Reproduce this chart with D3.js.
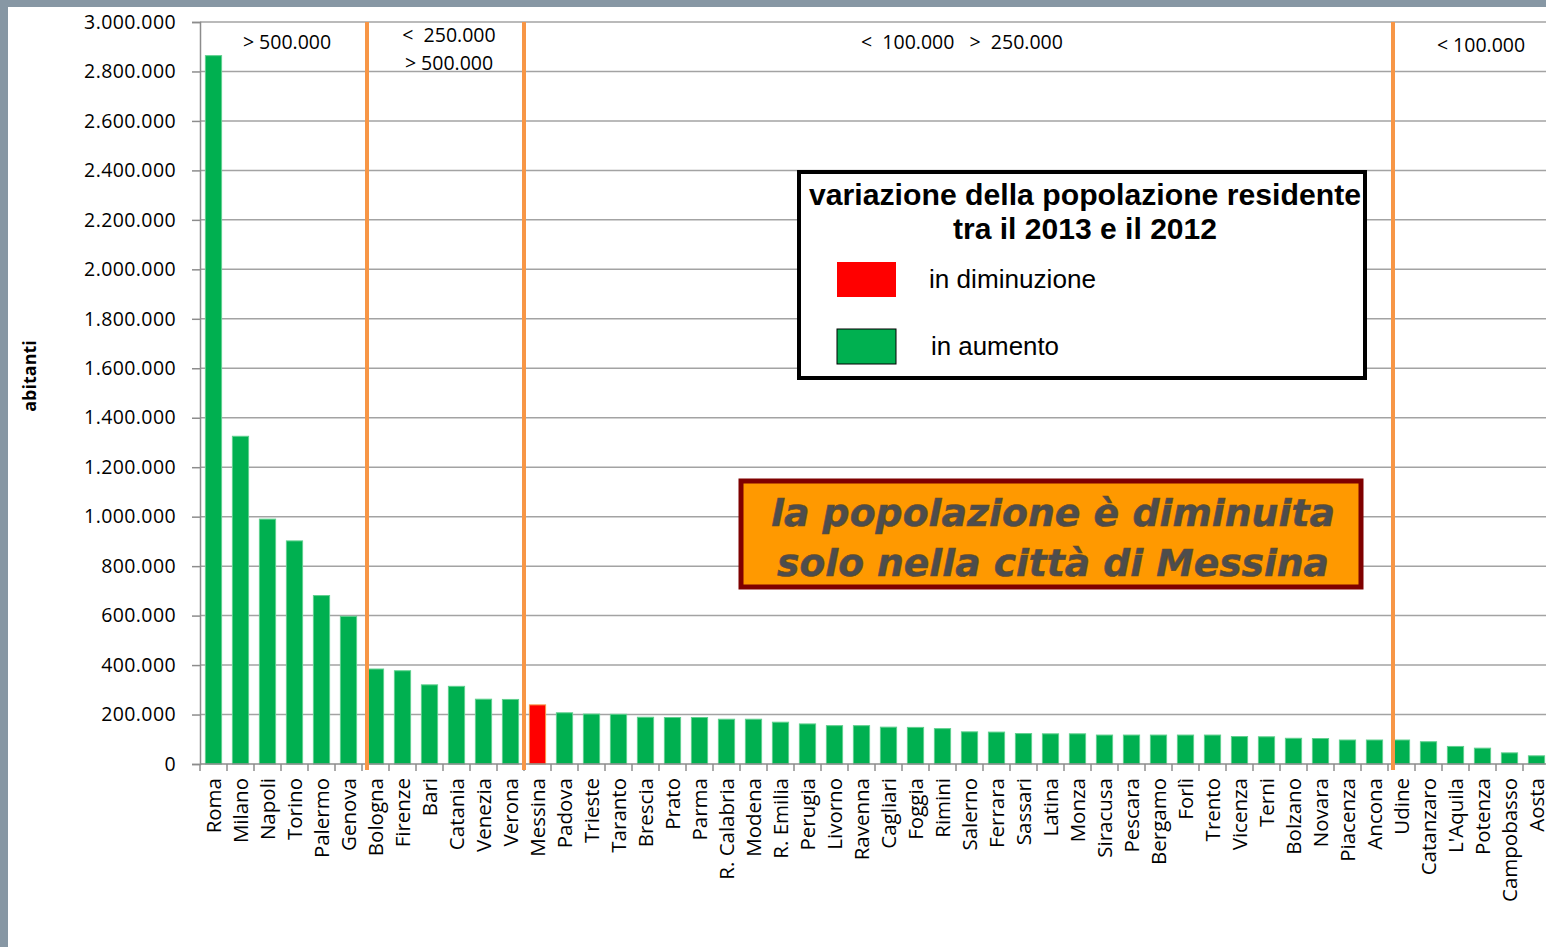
<!DOCTYPE html>
<html>
<head>
<meta charset="utf-8">
<script src="https://cdn.jsdelivr.net/npm/d3@7/dist/d3.min.js"></script>
<style>
  body { margin: 0; background: #fff; }
  svg { display: block; }
</style>
</head>
<body>
<script>
// data
var cities = ["Roma", "Milano", "Napoli", "Torino", "Palermo", "Genova", "Bologna", "Firenze", "Bari", "Catania",
  "Venezia", "Verona", "Messina", "Padova", "Trieste", "Taranto", "Brescia", "Prato", "Parma", "R. Calabria",
  "Modena", "R. Emilia", "Perugia", "Livorno", "Ravenna", "Cagliari", "Foggia", "Rimini", "Salerno", "Ferrara",
  "Sassari", "Latina", "Monza", "Siracusa", "Pescara", "Bergamo", "Forlì", "Trento", "Vicenza", "Terni",
  "Bolzano", "Novara", "Piacenza", "Ancona", "Udine", "Catanzaro", "L'Aquila", "Potenza", "Campobasso", "Aosta"];

var residents = [2864000, 1325000, 990000, 902000, 681000, 597000, 384000, 377000, 320000, 314000,
  262000, 261000, 239000, 207000, 202000, 201000, 189000, 188000, 188000, 181000,
  181000, 169000, 162000, 155000, 155000, 149000, 148000, 143000, 130000, 129000,
  123000, 122000, 122000, 117000, 117000, 117000, 117000, 117000, 111000, 110000,
  104000, 103000, 97000, 97000, 97000, 90000, 71000, 64000, 45000, 33000];

var decreasing = ["Messina"];

var yTicks = [0, 200000, 400000, 600000, 800000, 1000000, 1200000, 1400000, 1600000, 1800000,
  2000000, 2200000, 2400000, 2600000, 2800000, 3000000];

// first city of each size group after a vertical divider
var groupStarts = ["Bologna", "Messina", "Udine"];
var groupLabels = [
  { from: "Roma", to: "Genova", lines: ["> 500.000"] },
  { from: "Bologna", to: "Verona", lines: ["<  250.000", "> 500.000"] },
  { from: "Messina", to: "Ancona", lines: ["<  100.000   >  250.000"] },
  { from: "Udine", to: "Aosta", lines: ["< 100.000"] }
];

var legendTitle = ["variazione della popolazione residente", "tra il 2013 e il 2012"];
var legendItems = [
  { label: "in diminuzione", color: "#ff0000" },
  { label: "in aumento", color: "#00b050" }
];
var noteLines = ["la popolazione è diminuita", "solo nella città di Messina"];

var width = 1546, height = 947;
var svg = d3.select("body").append("svg")
  .attr("width", width)
  .attr("height", height);

// slide frame
svg.append("rect").attr("x", 0).attr("y", 0).attr("width", width).attr("height", 7).attr("fill", "#8797a4");
svg.append("rect").attr("x", 0).attr("y", 0).attr("width", 8).attr("height", height).attr("fill", "#8797a4");

var x = d3.scaleBand()
  .domain(cities)
  .range([200, 1550])
  .paddingInner(0.4)
  .paddingOuter(0.2);

var y = d3.scaleLinear()
  .domain([0, 3000000])
  .range([764, 22]);

var it = d3.formatLocale({ decimal: ",", thousands: ".", grouping: [3], currency: ["", ""] });
var fmt = it.format(",");

var step = x.step();
function bandLeft(c) { return x(c) - x.paddingOuter() * step; }

// gridlines
svg.append("g")
  .selectAll("line")
  .data(yTicks.slice(1))
  .enter()
  .append("line")
  .attr("x1", 200)
  .attr("x2", width)
  .attr("y1", function(d) { return y(d); })
  .attr("y2", function(d) { return y(d); })
  .attr("stroke", "#a3a3a3")
  .attr("stroke-width", 1.5);

// y axis
var yAxis = svg.append("g")
  .attr("transform", "translate(200,0)")
  .call(d3.axisLeft(y).tickValues(yTicks).tickFormat(fmt).tickSize(8).tickPadding(16));
yAxis.select(".domain").attr("stroke", "#8c8c8c").attr("stroke-width", 1.5);
yAxis.selectAll(".tick line").attr("stroke", "#8c8c8c").attr("stroke-width", 1.5);
yAxis.selectAll(".tick text")
  .attr("font-family", "'Open Sans', sans-serif")
  .attr("font-size", 19.5)
  .attr("letter-spacing", 0.4)
  .attr("fill", "#000");

svg.append("text")
  .attr("transform", "translate(36,376) rotate(-90)")
  .attr("text-anchor", "middle")
  .attr("font-family", "'Open Sans', sans-serif")
  .attr("font-weight", "bold")
  .attr("font-size", 18)
  .text("abitanti");

// bars
svg.append("g")
  .selectAll("rect")
  .data(cities)
  .enter()
  .append("rect")
  .attr("x", function(d) { return x(d); })
  .attr("width", x.bandwidth())
  .attr("y", function(d, i) { return y(residents[i]); })
  .attr("height", function(d, i) { return y(0) - y(residents[i]); })
  .attr("fill", function(d) { return decreasing.indexOf(d) >= 0 ? "#ff0000" : "#00b050"; })
  .attr("stroke", function(d) { return decreasing.indexOf(d) >= 0 ? "#f79646" : "#5fd08e"; })
  .attr("stroke-width", 1);

// x axis line and ticks
svg.append("line")
  .attr("x1", 200).attr("x2", width)
  .attr("y1", y(0)).attr("y2", y(0))
  .attr("stroke", "#8c8c8c").attr("stroke-width", 1.5);

svg.append("g")
  .selectAll("line")
  .data(cities)
  .enter()
  .append("line")
  .attr("x1", function(d) { return bandLeft(d); })
  .attr("x2", function(d) { return bandLeft(d); })
  .attr("y1", y(0))
  .attr("y2", y(0) + 7)
  .attr("stroke", "#8c8c8c")
  .attr("stroke-width", 1.5);

svg.append("g")
  .selectAll("text")
  .data(cities)
  .enter()
  .append("text")
  .attr("transform", function(d) {
    return "translate(" + (x(d) + x.bandwidth() / 2 + 7) + "," + (y(0) + 14) + ") rotate(-90)";
  })
  .attr("text-anchor", "end")
  .attr("font-family", "'Open Sans', sans-serif")
  .attr("font-size", 20.5)
  .attr("fill", "#000")
  .text(function(d) { return d; });

// group dividers (hand placed in the original, so slightly off the tick marks)
svg.append("g")
  .selectAll("line")
  .data(groupStarts)
  .enter()
  .append("line")
  .attr("x1", function(d, i) { return bandLeft(d) + (i === 1 ? 0 : 5); })
  .attr("x2", function(d, i) { return bandLeft(d) + (i === 1 ? 0 : 5); })
  .attr("y1", y(3000000))
  .attr("y2", y(0) + 6)
  .attr("stroke", "#f79646")
  .attr("stroke-width", 4);

// group labels
groupLabels.forEach(function(g, k) {
  var cx = (bandLeft(g.from) + bandLeft(g.to) + step) / 2 + (k === 3 ? 12 : 6);
  g.lines.forEach(function(t, j) {
    svg.append("text")
      .attr("x", cx)
      .attr("y", 49 + j * 28 - (g.lines.length > 1 ? 7 : 0) + (k === 3 ? 3 : 0))
      .attr("text-anchor", "middle")
      .attr("font-family", "'Open Sans', sans-serif")
      .attr("font-size", 19.5)
      .attr("xml:space", "preserve")
      .style("white-space", "pre")
      .text(t);
  });
});

// legend box
var lg = svg.append("g").attr("transform", "translate(799,172)");
lg.append("rect")
  .attr("width", 566).attr("height", 206)
  .attr("fill", "#fff").attr("stroke", "#000").attr("stroke-width", 4);
lg.selectAll("text.title")
  .data(legendTitle)
  .enter()
  .append("text")
  .attr("class", "title")
  .attr("x", 286)
  .attr("y", function(d, i) { return 33 + i * 34; })
  .attr("text-anchor", "middle")
  .attr("font-family", "'Liberation Sans', Arial, sans-serif")
  .attr("font-weight", "bold")
  .attr("font-size", 29.5)
  .attr("textLength", function(d, i) { return i === 0 ? 552 : 264; })
  .attr("lengthAdjust", "spacingAndGlyphs")
  .text(function(d) { return d; });
legendItems.forEach(function(d, i) {
  lg.append("rect")
    .attr("x", 38).attr("y", 90 + i * 67)
    .attr("width", 59).attr("height", 35)
    .attr("fill", d.color)
    .attr("stroke", i === 1 ? "#000" : "none")
    .attr("stroke-width", 1);
  lg.append("text")
    .attr("x", 130 + i * 2).attr("y", 116 + i * 67)
    .attr("font-family", "'Liberation Sans', Arial, sans-serif")
    .attr("font-size", 25)
    .attr("textLength", i === 0 ? 167 : 128)
    .attr("lengthAdjust", "spacingAndGlyphs")
    .text(d.label);
});

// note box
var nb = svg.append("g").attr("transform", "translate(741,481)");
nb.append("rect")
  .attr("width", 620).attr("height", 106)
  .attr("fill", "#ff9900").attr("stroke", "#7f0000").attr("stroke-width", 5);
nb.selectAll("text")
  .data(noteLines)
  .enter()
  .append("text")
  .attr("x", 312)
  .attr("y", function(d, i) { return 45 + i * 50; })
  .attr("text-anchor", "middle")
  .attr("font-family", "'DejaVu Sans', Verdana, sans-serif")
  .attr("font-weight", "bold")
  .attr("font-style", "italic")
  .attr("font-size", 38)
  .attr("textLength", function(d, i) { return i === 0 ? 564 : 552; })
  .attr("lengthAdjust", "spacingAndGlyphs")
  .attr("fill", "#4d4d4d")
  .attr("stroke", "#6b4a20")
  .attr("stroke-width", 0.6)
  .text(function(d) { return d; });
</script>
</body>
</html>
